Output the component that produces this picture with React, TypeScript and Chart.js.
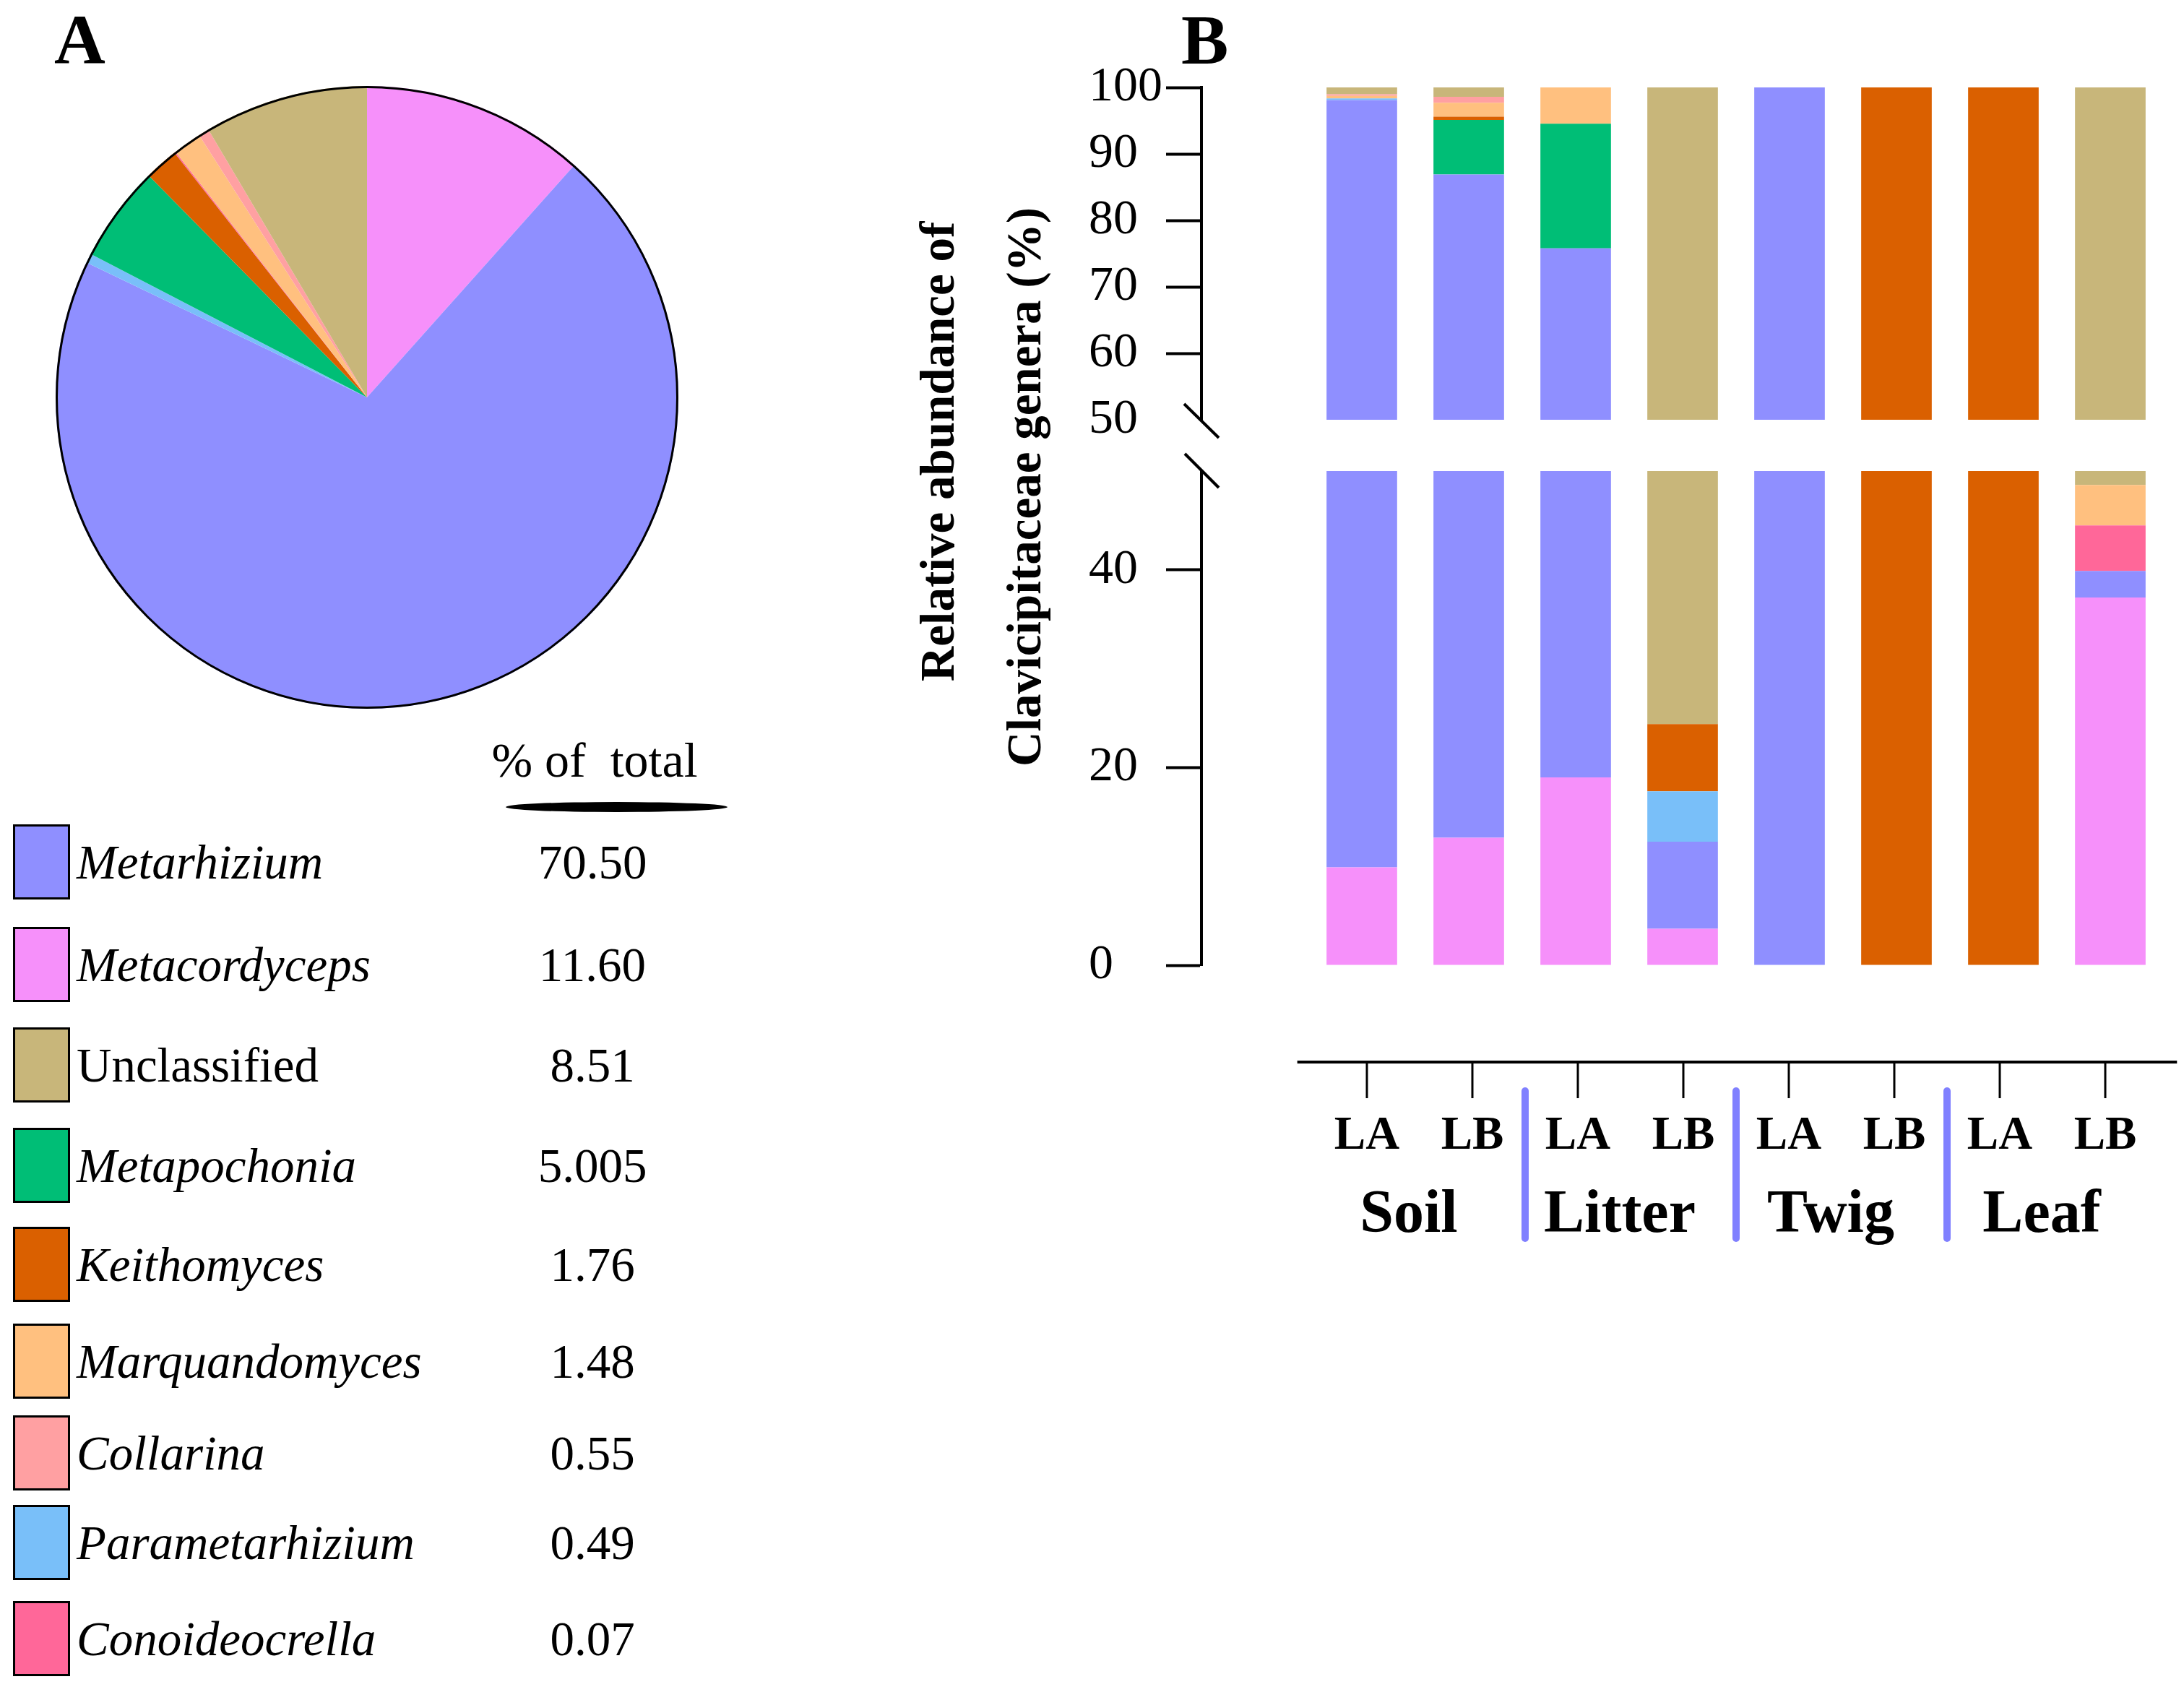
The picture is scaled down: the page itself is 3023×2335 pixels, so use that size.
import React, { useEffect, useRef } from 'react';
import { Chart, registerables } from 'chart.js';

Chart.register(...registerables);

const FONT = '"Liberation Serif", "Times New Roman", serif';

// Genera in stacking / pie order (clockwise from 12 o'clock, bottom-to-top in bars)
const genera = [
  'Metacordyceps',
  'Metarhizium',
  'Parametarhizium',
  'Metapochonia',
  'Keithomyces',
  'Conoideocrella',
  'Marquandomyces',
  'Collarina',
  'Unclassified',
];
const generaItalic = [true, true, true, true, true, true, true, true, false];
const generaColors = [
  '#f690fa',
  '#8f8fff',
  '#79bff9',
  '#00be76',
  '#da6000',
  '#ff6799',
  '#ffc07f',
  '#ffa0a2',
  '#c8b67a',
];
// % of total (panel A)
const totalShare = [11.6, 70.5, 0.49, 5.005, 1.76, 0.07, 1.48, 0.55, 8.51];

// Panel B samples
const habitats = ['Soil', 'Litter', 'Twig', 'Leaf'];
const sampleLabels = ['LA', 'LB', 'LA', 'LB', 'LA', 'LB', 'LA', 'LB'];

const metacordyceps = [9.9, 12.9, 19.0, 3.7, 0, 0, 0, 37.2];
const metarhizium = [88.2, 74.0, 56.8, 8.8, 100, 0, 0, 2.7];
const parametarhizium = [0.23, 0, 0, 5.1, 0, 0, 0, 0];
const metapochonia = [0, 8.2, 18.75, 0, 0, 0, 0, 0];
const keithomyces = [0, 0.5, 0, 6.8, 0, 100, 100, 0];
const conoideocrella = [0, 0, 0, 0, 0, 0, 0, 4.6];
const marquandomyces = [0.4, 2.1, 5.45, 0, 0, 0, 0, 4.1];
const collarina = [0.23, 0.9, 0, 0, 0, 0, 0, 0];
const unclassified = [1.04, 1.4, 0, 75.6, 0, 0, 0, 51.4];

const barSeries = [
  metacordyceps,
  metarhizium,
  parametarhizium,
  metapochonia,
  keithomyces,
  conoideocrella,
  marquandomyces,
  collarina,
  unclassified,
];

const upperRange = [50, 100];
const upperStep = 10;
const lowerRange = [0, 50];
const lowerStep = 20;

// layout only: top edge of each legend row (px)
const legendRowTops = [1141, 1283, 1422, 1561, 1698, 1832, 1959, 2083, 2216];

const fmtShare = (v: number) => {
  const s = String(v);
  const dec = s.includes('.') ? s.split('.')[1].length : 0;
  return v.toFixed(Math.max(2, dec));
};

const legendOrder = genera.map((_, i) => i).sort((a, b) => totalShare[b] - totalShare[a]);

function makeBarData() {
  return {
    labels: ['', ...sampleLabels],
    datasets: genera.map((g, i) => ({
      label: g,
      data: [null, ...barSeries[i]],
      backgroundColor: generaColors[i],
      borderWidth: 0,
      clip: 0,
      barPercentage: 0.66,
      categoryPercentage: 1,
    })),
  };
}

function yAxis(min: number, max: number, step: number, hideTickAt: number | null) {
  return {
    min,
    max,
    stacked: true,
    afterFit: (scale: any) => {
      scale.width = 156;
    },
    ticks: {
      stepSize: step,
      includeBounds: false,
      crossAlign: 'far' as const,
      color: '#000',
      padding: 3,
      font: { family: FONT, size: 68 },
    },
    grid: {
      display: true,
      drawOnChartArea: false,
      drawTicks: true,
      tickLength: 49,
      tickWidth: 4,
      tickColor: (c: any) =>
        hideTickAt !== null && c.tick && c.tick.value === hideTickAt ? 'rgba(0,0,0,0)' : '#000',
    },
    border: { display: true, color: '#000', width: 4 },
  };
}

const outlinePlugin = {
  id: 'outline',
  afterDatasetsDraw(chart: any) {
    const arc = chart.getDatasetMeta(0).data[0];
    if (!arc) return;
    const ctx = chart.ctx;
    ctx.save();
    ctx.strokeStyle = '#000';
    ctx.lineWidth = 3;
    ctx.beginPath();
    ctx.arc(arc.x, arc.y, arc.outerRadius - 1.5, 0, Math.PI * 2);
    ctx.stroke();
    ctx.restore();
  },
};

const upperBreakPlugin = {
  id: 'upperBreak',
  afterDraw(chart: any) {
    const { left, bottom } = chart.chartArea;
    const ctx = chart.ctx;
    ctx.save();
    ctx.strokeStyle = '#000';
    ctx.lineWidth = 4;
    ctx.beginPath();
    ctx.moveTo(left - 24, bottom - 22);
    ctx.lineTo(left + 24, bottom + 25);
    ctx.stroke();
    ctx.restore();
  },
};

const lowerPlugin = {
  id: 'lowerExtras',
  afterDraw(chart: any) {
    const { left, top, bottom } = chart.chartArea;
    const ctx = chart.ctx;
    const xs = chart.scales.x;
    const n = sampleLabels.length;
    const mid = (xs.getPixelForValue(1) + xs.getPixelForValue(n)) / 2;
    // the sample axis below is drawn slightly tighter than the bars
    const px = (i: number) => mid + (xs.getPixelForValue(i + 1) - mid) * 0.9865;
    const w = px(1) - px(0);
    ctx.save();
    // axis break
    ctx.strokeStyle = '#000';
    ctx.lineWidth = 4;
    ctx.beginPath();
    ctx.moveTo(left - 23, top - 24);
    ctx.lineTo(left + 24, top + 23);
    ctx.stroke();

    // separate sample axis
    const lineY = bottom + 134;
    ctx.lineWidth = 4;
    ctx.beginPath();
    ctx.moveTo(px(0) - 0.66 * w, lineY);
    ctx.lineTo(px(n - 1) + 0.68 * w, lineY);
    ctx.stroke();
    ctx.lineWidth = 3;
    ctx.fillStyle = '#000';
    ctx.textAlign = 'center';
    ctx.textBaseline = 'alphabetic';
    ctx.font = `bold 65px ${FONT}`;
    sampleLabels.forEach((lab, i) => {
      ctx.beginPath();
      ctx.moveTo(px(i), lineY);
      ctx.lineTo(px(i), lineY + 50);
      ctx.stroke();
      ctx.fillText(lab, px(i), lineY + 120);
    });
    // separators
    ctx.strokeStyle = '#8080ff';
    ctx.lineWidth = 10;
    ctx.lineCap = 'round';
    for (let g = 1; g < habitats.length; g++) {
      const x = (px(2 * g - 1) + px(2 * g)) / 2;
      ctx.beginPath();
      ctx.moveTo(x, lineY + 40);
      ctx.lineTo(x, lineY + 244);
      ctx.stroke();
    }
    ctx.font = `bold 84px ${FONT}`;
    habitats.forEach((h, g) => {
      const x = (px(2 * g) + px(2 * g + 1)) / 2 - 15;
      ctx.fillText(h, x, lineY + 235);
    });
    ctx.restore();
  },
};

export default function App() {
  const pieRef = useRef<HTMLCanvasElement>(null);
  const upRef = useRef<HTMLCanvasElement>(null);
  const lowRef = useRef<HTMLCanvasElement>(null);

  useEffect(() => {
    const charts: Chart[] = [];
    if (pieRef.current) {
      charts.push(
        new Chart(pieRef.current, {
          type: 'pie',
          data: {
            labels: genera,
            datasets: [{ data: totalShare, backgroundColor: generaColors, borderWidth: 0 }],
          },
          options: {
            animation: false,
            responsive: false,
            events: [],
            layout: { padding: 0 },
            plugins: { legend: { display: false }, tooltip: { enabled: false } },
          },
          plugins: [outlinePlugin],
        } as any)
      );
    }
    if (upRef.current) {
      charts.push(
        new Chart(upRef.current, {
          type: 'bar',
          data: makeBarData(),
          options: {
            animation: false,
            responsive: false,
            events: [],
            layout: { padding: { left: 107, right: 28, top: 121, bottom: 59 } },
            plugins: { legend: { display: false }, tooltip: { enabled: false } },
            scales: {
              x: { display: false, stacked: true, offset: true },
              y: yAxis(upperRange[0], upperRange[1], upperStep, upperRange[0]),
            },
          },
          plugins: [upperBreakPlugin],
        } as any)
      );
    }
    if (lowRef.current) {
      charts.push(
        new Chart(lowRef.current, {
          type: 'bar',
          data: makeBarData(),
          options: {
            animation: false,
            responsive: false,
            events: [],
            layout: { padding: { left: 107, right: 28, top: 52, bottom: 444 } },
            plugins: { legend: { display: false }, tooltip: { enabled: false } },
            scales: {
              x: { display: false, stacked: true, offset: true },
              y: yAxis(lowerRange[0], lowerRange[1], lowerStep, null),
            },
          },
          plugins: [lowerPlugin],
        } as any)
      );
    }
    return () => charts.forEach((c) => c.destroy());
  }, []);

  const abs = (extra: React.CSSProperties): React.CSSProperties => ({ position: 'absolute', ...extra });

  return (
    <div
      style={{
        position: 'absolute',
        left: 0,
        top: 0,
        width: 3023,
        height: 2335,
        background: '#fff',
        overflow: 'hidden',
        fontFamily: FONT,
        color: '#000',
      }}
    >
      <div style={abs({ left: 75, top: 5, fontSize: 98, fontWeight: 'bold', lineHeight: 1 })}>A</div>
      <div style={abs({ left: 1635, top: 6, fontSize: 98, fontWeight: 'bold', lineHeight: 1 })}>B</div>

      <canvas ref={pieRef} width={862} height={862} style={abs({ left: 77, top: 119, width: 862, height: 862 })} />

      <div
        style={abs({
          left: 623,
          width: 400,
          top: 1018,
          fontSize: 68,
          lineHeight: 1,
          textAlign: 'center',
          whiteSpace: 'pre',
        })}
      >
        {'% of  total'}
      </div>
      <div style={abs({ left: 700, top: 1110, width: 307, height: 14, background: '#000', borderRadius: '50%' })} />

      {legendOrder.map((gi, r) => {
        const top = legendRowTops[r];
        return (
          <React.Fragment key={genera[gi]}>
            <div
              style={abs({
                left: 18,
                top,
                width: 79,
                height: 104,
                boxSizing: 'border-box',
                border: '3px solid #000',
                background: generaColors[gi],
              })}
            />
            <div
              style={abs({
                left: 106,
                top,
                height: 104,
                display: 'flex',
                alignItems: 'center',
                fontSize: 67,
                lineHeight: 1,
                whiteSpace: 'nowrap',
                fontStyle: generaItalic[gi] ? 'italic' : 'normal',
              })}
            >
              {genera[gi]}
            </div>
            <div
              style={abs({
                left: 670,
                width: 300,
                top,
                height: 104,
                display: 'flex',
                alignItems: 'center',
                justifyContent: 'center',
                fontSize: 67,
                lineHeight: 1,
              })}
            >
              {fmtShare(totalShare[gi])}
            </div>
          </React.Fragment>
        );
      })}

      <div
        style={abs({
          left: 1297,
          top: 625,
          fontSize: 67,
          fontWeight: 'bold',
          lineHeight: 1,
          whiteSpace: 'nowrap',
          transform: 'translate(-50%, -50%) rotate(-90deg)',
        })}
      >
        Relative abundance of
      </div>
      <div
        style={abs({
          left: 1417,
          top: 674,
          fontSize: 67,
          fontWeight: 'bold',
          lineHeight: 1,
          whiteSpace: 'nowrap',
          transform: 'translate(-50%, -50%) rotate(-90deg)',
        })}
      >
        Clavicipitaceae genera (%)
      </div>

      <canvas ref={upRef} width={1623} height={640} style={abs({ left: 1400, top: 0, width: 1623, height: 640 })} />
      <canvas ref={lowRef} width={1623} height={1180} style={abs({ left: 1400, top: 600, width: 1623, height: 1180 })} />
    </div>
  );
}
